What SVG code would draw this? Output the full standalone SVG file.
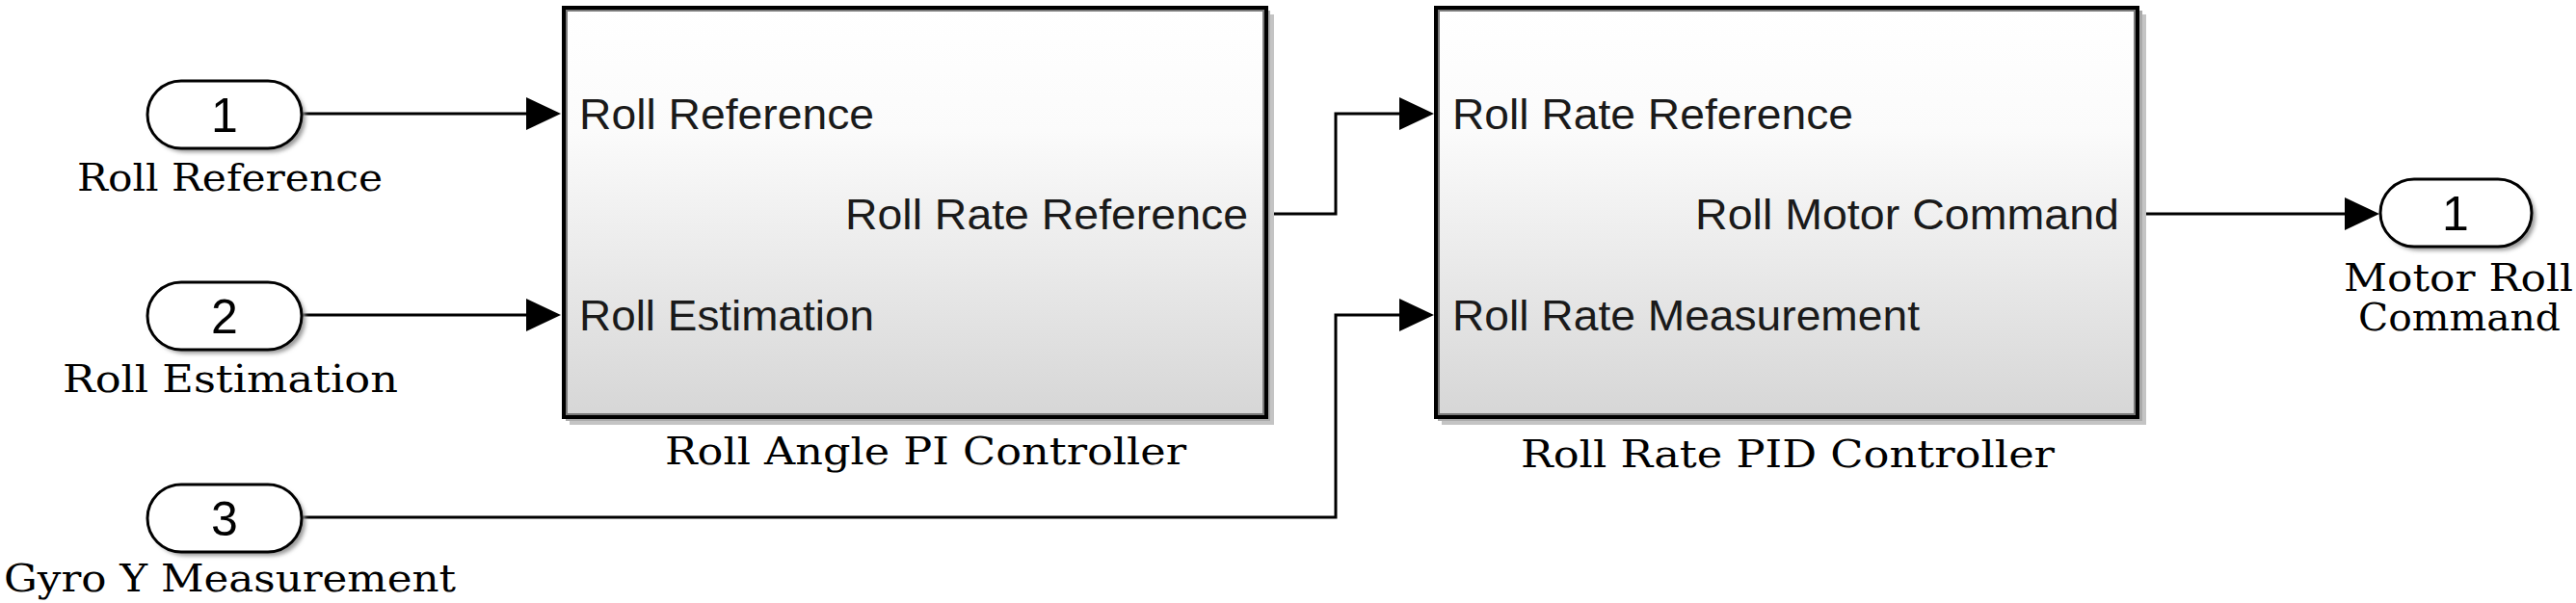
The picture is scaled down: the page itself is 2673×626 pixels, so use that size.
<svg xmlns="http://www.w3.org/2000/svg" width="2673" height="626" viewBox="0 0 2673 626">
<style>
.port{font-family:"Liberation Sans",Arial,sans-serif;font-size:45px;fill:#1a1a1a}
.lbl{font-family:"DejaVu Serif","Liberation Serif",serif;font-size:40px;fill:#000}
.num{font-family:"Liberation Sans",Arial,sans-serif;font-size:50px;fill:#000;text-anchor:middle}
.wire{fill:none;stroke:#000;stroke-width:3}
.oval{fill:#fff;stroke:#000;stroke-width:3}
.ovsh{fill:#999;filter:url(#blur)}
.box{fill:url(#grad);stroke:#000;stroke-width:4}
.inner{fill:none;stroke:#7a7a7a;stroke-width:2}
</style>
<defs>
<linearGradient id="grad" x1="0" y1="0" x2="0" y2="1">
<stop offset="0" stop-color="#ffffff"/>
<stop offset="0.3" stop-color="#fbfbfb"/>
<stop offset="1" stop-color="#d6d6d6"/>
</linearGradient>
<filter id="blur" x="-10%" y="-20%" width="130%" height="150%"><feGaussianBlur stdDeviation="2"/></filter>
<marker id="arr" viewBox="0 0 36 34" markerWidth="36" markerHeight="34" refX="0" refY="17" orient="auto" markerUnits="userSpaceOnUse">
<path d="M0,0 L36,17 L0,34 Z" fill="#000"/>
</marker>
</defs>
<rect width="2673" height="626" fill="#fff"/>

<g id="connectors">
<path class="wire" d="M313,118 H546" marker-end="url(#arr)"/>
<path class="wire" d="M313,327 H546" marker-end="url(#arr)"/>
<path class="wire" d="M1316,222 H1386 V118 H1452" marker-end="url(#arr)"/>
<path class="wire" d="M313,537 H1386 V327 H1452" marker-end="url(#arr)"/>
<path class="wire" d="M2218,222 H2433" marker-end="url(#arr)"/>
</g>

<g id="in1">
<rect class="ovsh" x="157" y="88" width="160" height="70" rx="35"/>
<rect class="oval" x="153" y="84" width="160" height="70" rx="35"/>
<text class="num" x="233" y="137">1</text>
<text class="lbl" x="80" y="198" textLength="317" lengthAdjust="spacingAndGlyphs">Roll Reference</text>
</g>

<g id="in2">
<rect class="ovsh" x="157" y="297" width="160" height="70" rx="35"/>
<rect class="oval" x="153" y="293" width="160" height="70" rx="35"/>
<text class="num" x="233" y="346">2</text>
<text class="lbl" x="65" y="407" textLength="348" lengthAdjust="spacingAndGlyphs">Roll Estimation</text>
</g>

<g id="in3">
<rect class="ovsh" x="157" y="507" width="160" height="70" rx="35"/>
<rect class="oval" x="153" y="503" width="160" height="70" rx="35"/>
<text class="num" x="233" y="556">3</text>
<text class="lbl" x="4" y="614" textLength="469" lengthAdjust="spacingAndGlyphs">Gyro Y Measurement</text>
</g>

<g id="block1">
<rect x="591" y="15" width="731" height="426" fill="#c4c4c4"/>
<rect x="587" y="11" width="731" height="426" fill="#aaaaaa"/>
<rect class="box" x="585" y="8" width="729" height="425"/>
<rect class="inner" x="588" y="11" width="723" height="419"/>
<text class="port" x="601" y="134" textLength="306" lengthAdjust="spacingAndGlyphs">Roll Reference</text>
<text class="port" x="877" y="238" textLength="418" lengthAdjust="spacingAndGlyphs">Roll Rate Reference</text>
<text class="port" x="601" y="343" textLength="306" lengthAdjust="spacingAndGlyphs">Roll Estimation</text>
<text class="lbl" x="690" y="482" textLength="541" lengthAdjust="spacingAndGlyphs">Roll Angle PI Controller</text>
</g>

<g id="block2">
<rect x="1496" y="15" width="731" height="426" fill="#c4c4c4"/>
<rect x="1492" y="11" width="731" height="426" fill="#aaaaaa"/>
<rect class="box" x="1490" y="8" width="728" height="425"/>
<rect class="inner" x="1493" y="11" width="722" height="419"/>
<text class="port" x="1507" y="134" textLength="416" lengthAdjust="spacingAndGlyphs">Roll Rate Reference</text>
<text class="port" x="1759" y="238" textLength="440" lengthAdjust="spacingAndGlyphs">Roll Motor Command</text>
<text class="port" x="1507" y="343" textLength="485" lengthAdjust="spacingAndGlyphs">Roll Rate Measurement</text>
<text class="lbl" x="1578" y="485" textLength="554" lengthAdjust="spacingAndGlyphs">Roll Rate PID Controller</text>
</g>

<g id="out1">
<rect class="ovsh" x="2474" y="190" width="157" height="70" rx="35"/>
<rect class="oval" x="2470" y="186" width="157" height="70" rx="35"/>
<text class="num" x="2548" y="239">1</text>
<text class="lbl" x="2432" y="302" textLength="238" lengthAdjust="spacingAndGlyphs">Motor Roll</text>
<text class="lbl" x="2447" y="343" textLength="210" lengthAdjust="spacingAndGlyphs">Command</text>
</g>
</svg>
